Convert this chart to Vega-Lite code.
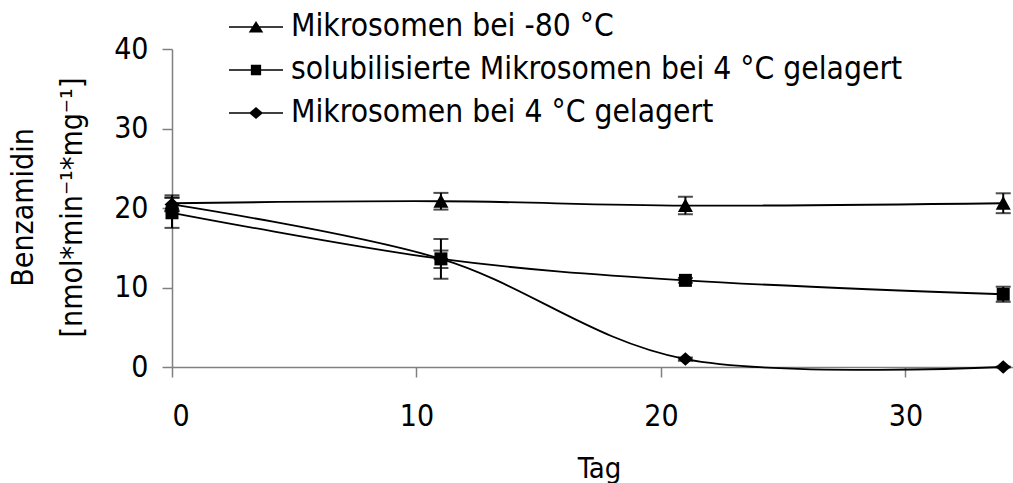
{
  "$schema": "https://vega.github.io/schema/vega-lite/v6.json",
  "width": 841,
  "height": 318,
  "autosize": {"type": "none"},
  "padding": {"left": 172, "top": 49, "right": 0, "bottom": 116},
  "background": "white",
  "config": {
    "font": "DejaVu Sans Condensed",
    "view": {"stroke": null},
    "axis": {
      "grid": false,
      "domainColor": "#808080",
      "domainWidth": 1.5,
      "tickColor": "#808080",
      "tickWidth": 1.5,
      "tickSize": 10,
      "labelFont": "DejaVu Sans Condensed",
      "labelFontSize": 30,
      "labelColor": "black",
      "titleFont": "DejaVu Sans Condensed",
      "titleFontSize": 30,
      "titleFontWeight": "normal",
      "titleColor": "black"
    }
  },
  "data": {
    "values": [
      {"series": "Mikrosomen bei -80 °C", "day": 0, "value": 20.6, "lo": 19.6, "hi": 21.6},
      {"series": "Mikrosomen bei -80 °C", "day": 11, "value": 20.85, "lo": 19.8, "hi": 21.9},
      {"series": "Mikrosomen bei -80 °C", "day": 21, "value": 20.3, "lo": 19.2, "hi": 21.4},
      {"series": "Mikrosomen bei -80 °C", "day": 34, "value": 20.6, "lo": 19.35, "hi": 21.85},
      {"series": "solubilisierte Mikrosomen bei 4 °C gelagert", "day": 0, "value": 19.4, "lo": 17.5, "hi": 21.3},
      {"series": "solubilisierte Mikrosomen bei 4 °C gelagert", "day": 11, "value": 13.6, "lo": 12.45, "hi": 14.65},
      {"series": "solubilisierte Mikrosomen bei 4 °C gelagert", "day": 21, "value": 10.9, "lo": 10.6, "hi": 11.2},
      {"series": "solubilisierte Mikrosomen bei 4 °C gelagert", "day": 34, "value": 9.15, "lo": 8.2, "hi": 10.1},
      {"series": "Mikrosomen bei 4 °C gelagert", "day": 0, "value": 20.45, "lo": 19.6, "hi": 21.3},
      {"series": "Mikrosomen bei 4 °C gelagert", "day": 11, "value": 13.6, "lo": 11.1, "hi": 16.1},
      {"series": "Mikrosomen bei 4 °C gelagert", "day": 21, "value": 1.0, "lo": 0.8, "hi": 1.2},
      {"series": "Mikrosomen bei 4 °C gelagert", "day": 34, "value": 0.0, "lo": -0.05, "hi": 0.05}
    ]
  },
  "encoding": {
    "x": {
      "field": "day",
      "type": "quantitative",
      "scale": {"domain": [0, 34.4], "nice": false, "zero": false},
      "axis": {
        "values": [0, 10, 20, 30],
        "labelPadding": 24,
        "title": "Tag",
        "titleFontSize": 29,
        "titleX": 427,
        "titleY": 110,
        "titleBaseline": "alphabetic",
        "titleAlign": "center"
      }
    },
    "y": {
      "field": "value",
      "type": "quantitative",
      "scale": {"domain": [0, 40], "nice": false},
      "axis": {
        "values": [0, 10, 20, 30, 40],
        "labelPadding": 14,
        "title": ["Benzamidin", "[nmol*min⁻¹*mg⁻¹]"],
        "titleLineHeight": 49,
        "titleAngle": -90,
        "titleBaseline": "bottom",
        "titleAlign": "center",
        "titleX": -134,
        "titleY": 158
      }
    }
  },
  "layer": [
    {
      "mark": {"type": "line", "interpolate": "cardinal", "color": "black", "strokeWidth": 1.8},
      "encoding": {"detail": {"field": "series"}}
    },
    {
      "mark": {"type": "errorbar", "color": "black", "thickness": 2, "ticks": {"size": 15, "thickness": 2}},
      "encoding": {
        "y": {"field": "lo", "type": "quantitative"},
        "y2": {"field": "hi"},
        "detail": {"field": "series"}
      }
    },
    {
      "mark": {"type": "point", "filled": true, "opacity": 1, "color": "black", "size": 100},
      "encoding": {
        "shape": {
          "field": "series",
          "type": "nominal",
          "scale": {
            "domain": ["Mikrosomen bei -80 °C", "solubilisierte Mikrosomen bei 4 °C gelagert", "Mikrosomen bei 4 °C gelagert"],
            "range": [
              "M0,-1.45L1.5,1.3L-1.5,1.3Z",
              "M-1.3,-1.3L1.3,-1.3L1.3,1.3L-1.3,1.3Z",
              "M0,-1.35L1.5,0L0,1.35L-1.5,0Z"
            ]
          },
          "legend": null
        }
      }
    },
    {
      "transform": [{"filter": "datum.day < 0"}],
      "mark": {"type": "point", "filled": true, "color": "black"},
      "encoding": {
        "shape": {
          "field": "series",
          "type": "nominal",
          "scale": {
            "domain": ["Mikrosomen bei -80 °C", "solubilisierte Mikrosomen bei 4 °C gelagert", "Mikrosomen bei 4 °C gelagert"],
            "range": [
              "M-1,-0.03L1,-0.03L1,0.03L-1,0.03ZM0,-0.22L0.27,0.2L-0.27,0.2Z",
              "M-1,-0.03L1,-0.03L1,0.03L-1,0.03ZM-0.19,-0.19L0.19,-0.19L0.19,0.19L-0.19,0.19Z",
              "M-1,-0.03L1,-0.03L1,0.03L-1,0.03ZM0,-0.22L0.26,0L0,0.22L-0.26,0Z"
            ]
          },
          "legend": {
            "title": null,
            "orient": "none",
            "legendX": 57,
            "legendY": -49,
            "padding": 0,
            "symbolSize": 2916,
            "symbolFillColor": "black",
            "symbolStrokeColor": "black",
            "symbolStrokeWidth": 0,
            "symbolOpacity": 1,
            "labelFont": "DejaVu Sans Condensed",
            "labelFontSize": 31.5,
            "labelColor": "black",
            "labelOffset": 8,
            "labelLimit": 0,
            "rowPadding": 0,
            "encode": {
              "symbols": {
                "update": {
                  "fill": {"value": "black"},
                  "opacity": {"value": 1}
                }
              }
            }
          }
        }
      }
    }
  ],
  "resolve": {"scale": {"shape": "independent"}}
}
